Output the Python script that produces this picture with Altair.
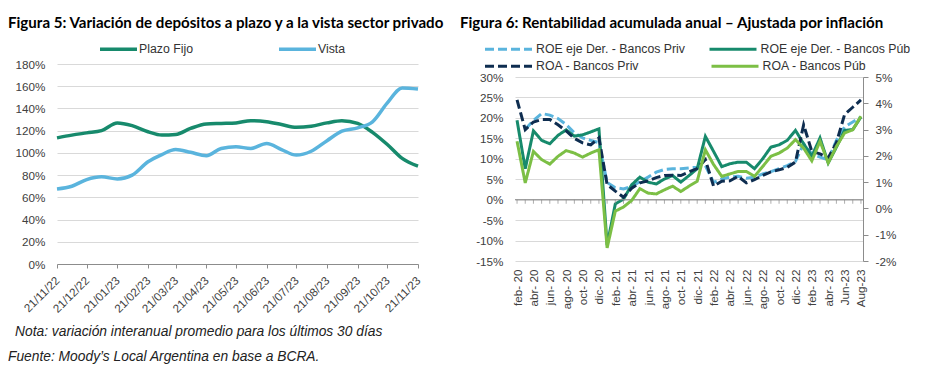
import json
import altair as alt
import pandas as pd

FONT = "Liberation Sans"
TFONT = "Lato"
GRID = "#d9d9d9"
AXC = "#8c8c8c"
LAB = "#404040"
C_PF = "#178a6c"
C_VI = "#5ab4dd"
C_NAVY = "#0e2d50"
C_LG = "#7cbf45"

titulo5 = "Figura 5: Variación de depósitos a plazo y a la vista sector privado"
titulo6 = "Figura 6: Rentabilidad acumulada anual – Ajustada por inflación"
nota = "Nota: variación interanual promedio para los últimos 30 días"
fuente = "Fuente: Moody’s Local Argentina en base a BCRA."

# ---------------- Figura 5 ----------------
fechas = ["2022-11-21", "2022-12-06", "2022-12-21", "2023-01-05", "2023-01-21",
          "2023-02-05", "2023-02-21", "2023-03-07", "2023-03-21", "2023-04-05",
          "2023-04-21", "2023-05-06", "2023-05-21", "2023-06-05", "2023-06-21",
          "2023-07-06", "2023-07-21", "2023-08-05", "2023-08-21", "2023-09-05",
          "2023-09-21", "2023-10-06", "2023-10-21", "2023-11-05", "2023-11-21"]
plazo_fijo = [113.5, 116, 118, 120, 127, 124.5, 119, 116, 116.5, 122, 126, 126.5, 127,
              129, 128, 125.5, 123, 124, 127, 129, 126.5, 118.5, 107.5, 95, 88]
vista = [67.5, 70, 76, 78.5, 76.5, 80, 92, 98.5, 103, 100.5, 97.5, 104, 105.5, 104,
         108.5, 103, 98, 101.5, 111, 119.5, 122.5, 128, 145, 158.5, 157.5]
series5 = ["Plazo Fijo", "Vista"]
ticks5 = ["2022-11-21", "2022-12-21", "2023-01-21", "2023-02-21", "2023-03-21",
          "2023-04-21", "2023-05-21", "2023-06-21", "2023-07-21", "2023-08-21",
          "2023-09-21", "2023-10-21", "2023-11-21"]
etiquetas5 = ["21/11/22", "21/12/22", "21/01/23", "21/02/23", "21/03/23", "21/04/23",
              "21/05/23", "21/06/23", "21/07/23", "21/08/23", "21/09/23", "21/10/23",
              "21/11/23"]
yticks5 = [0, 20, 40, 60, 80, 100, 120, 140, 160, 180]

# ---------------- Figura 6 ----------------
roe_priv = [None, 3.01, 3.35, 3.61, 3.55, 3.42, 3.19, 2.88, 2.68, 2.59, 2.5,
            0.99, 0.79, 0.74, 0.84, 1.02, 1.19, 1.38, 1.48, 1.51, 1.51, 1.54, 1.57,
            1.63, 0.99, 1.12, 1.19, 1.22, 1.15, 1.19, 1.31, 1.40, 1.51, 1.63, 1.79,
            2.46, 2.08, 1.95, 1.85, 2.59, 3.10, 3.29, 3.48]
roe_pub = [3.35, 1.51, 2.95, 2.59, 2.46, 2.78, 2.99, 2.75, 2.80, 2.91, 3.03,
           -1.4, 0.17, 0.35, 0.9, 1.19, 1.0, 0.93, 1.12, 1.25, 1.0, 1.25, 1.51,
           2.74, 2.17, 1.59, 1.70, 1.76, 1.76, 1.51, 1.89, 2.33, 2.42, 2.59, 2.97,
           2.46, 1.99, 2.68, 1.73, 2.33, 2.97, 3.0, 3.48]
roa_priv = [24.4, 17.1, 19.0, 19.6, 19.6, 18.3, 16.8, 15.0, 13.9, 13.4, 15.1,
            3.7, 2.1, 0.6, 2.8, 4.1, 4.6, 5.4, 5.9, 6.0, 5.9, 6.8, 7.6,
            9.8, 3.3, 4.5, 4.6, 5.7, 4.1, 4.9, 5.9, 6.8, 7.3, 7.9, 9.2,
            18.3, 11.8, 11.2, 10.2, 13.9, 20.8, 22.6, 24.4]
roa_pub = [14.3, 4.1, 11.8, 9.8, 8.7, 10.6, 12.0, 11.4, 10.4, 11.4, 12.2,
           -11.8, -2.8, -1.8, -0.2, 2.7, 1.6, 1.4, 2.4, 3.3, 2.0, 3.3, 4.5,
           12.2, 8.6, 5.7, 6.3, 6.9, 6.9, 5.7, 8.1, 10.6, 11.4, 12.6, 14.7,
           12.6, 9.5, 14.3, 9.0, 13.0, 16.3, 17.1, 20.4]
roe_names = ["ROE eje Der. - Bancos Priv", "ROE eje Der. - Bancos Púb"]
roa_names = ["ROA - Bancos Priv", "ROA - Bancos Púb"]
etiquetas6 = ["feb- 20", "abr- 20", "jun- 20", "ago- 20", "oct- 20", "dic- 20",
              "feb- 21", "abr- 21", "jun- 21", "ago- 21", "oct- 21", "dic- 21",
              "feb- 22", "abr- 22", "jun- 22", "ago- 22", "oct- 22", "dic- 22",
              "feb- 23", "abr- 23", "Jun-23", "Aug-23"]
yticks6_izq = [-15, -10, -5, 0, 5, 10, 15, 20, 25, 30]
yticks6_der = [-2, -1, 0, 1, 2, 3, 4, 5]
meses = list(range(len(roa_pub)))

PCT = "datum.value + '%'"

origen = pd.Timestamp(fechas[0])
dias = [int((pd.Timestamp(f) - origen).days) for f in fechas]
dias_ticks = [int((pd.Timestamp(f) - origen).days) for f in ticks5]


def txt(text, x, y, size, weight="normal", style="normal", font=FONT, baseline="top", color="#000000"):
    return alt.Chart(pd.DataFrame({"t": [text]})).mark_text(
        align="left", baseline=baseline, font=font, fontSize=size,
        fontWeight=weight, fontStyle=style, color=color
    ).encode(x=alt.value(x), y=alt.value(y), text="t:N")


# ---- left panel
df5 = pd.DataFrame({
    "dia": dias + dias,
    "fecha": fechas + fechas,
    "valor": plazo_fijo + vista,
    "serie": [series5[0]] * len(fechas) + [series5[1]] * len(fechas),
})

leg5 = alt.Legend(orient="none", legendX=41, legendY=-35.5, direction="horizontal",
                  title=None, symbolType="stroke", symbolSize=1369, symbolStrokeWidth=3.5,
                  labelFont=FONT, labelFontSize=12.3, labelColor="#333333", labelOffset=0,
                  columnPadding=79, padding=0, labelLimit=250)

lines5 = alt.Chart(df5).mark_line(strokeWidth=3.5, interpolate="monotone").encode(
    x=alt.X("dia:Q",
            scale=alt.Scale(domain=[dias_ticks[0], dias_ticks[-1]], nice=False, zero=False),
            axis=alt.Axis(values=dias_ticks,
                          labelExpr=json.dumps(etiquetas5) + "[indexof(" + json.dumps(dias_ticks) + ", datum.value)]",
                          labelAngle=-45, labelAlign="right", labelBaseline="middle",
                          labelPadding=10, labelOverlap=False, labelFlush=False,
                          tickSize=4, tickColor=AXC, domainColor=AXC, grid=False, title=None,
                          labelFont=FONT, labelFontSize=11.7, labelColor=LAB)),
    y=alt.Y("valor:Q", scale=alt.Scale(domain=[0, 180], nice=False, zero=False),
            axis=alt.Axis(values=yticks5, labelExpr=PCT, grid=True, gridColor=GRID,
                          domain=False, ticks=False, labelPadding=12, title=None,
                          labelOverlap=False,
                          labelFont=FONT, labelFontSize=11.7, labelColor=LAB)),
    color=alt.Color("serie:N", scale=alt.Scale(domain=series5, range=[C_PF, C_VI]), legend=leg5),
    tooltip=["fecha:N", "serie:N", "valor:Q"],
)

left = alt.layer(
    lines5,
    txt(titulo5, -49, -48, 15.1, weight="bold", font=TFONT),
    txt(nota, -42, 268, 13.8, style="italic", baseline="middle", color="#222222"),
    txt(fuente, -49, 292.7, 13.8, style="italic", baseline="middle", color="#222222"),
).properties(width=361, height=200)

# ---- right panel
df_roe = pd.DataFrame({
    "mes": meses + meses,
    "valor": roe_priv + roe_pub,
    "serie": [roe_names[0]] * len(meses) + [roe_names[1]] * len(meses),
})
df_roa = pd.DataFrame({
    "mes": meses + meses,
    "valor": roa_priv + roa_pub,
    "serie": [roa_names[0]] * len(meses) + [roa_names[1]] * len(meses),
})

x6_scale = alt.Scale(domain=[-0.25, 42.25], nice=False, zero=False)
x6_axis = alt.Axis(values=list(range(0, 43, 2)),
                   labelExpr=json.dumps(etiquetas6) + "[round(datum.value / 2)]",
                   labelAngle=-90, labelAlign="right", labelBaseline="middle",
                   labelPadding=8, ticks=False, domain=False, grid=False,
                   labelOverlap=False, labelFlush=False, title=None,
                   labelFont=FONT, labelFontSize=11.7, labelColor=LAB)
x6 = alt.X("mes:Q", scale=x6_scale, axis=x6_axis)

yl_scale = alt.Scale(domain=[-15, 30], range=[197, 13], nice=False, zero=False)
yl_axis = alt.Axis(orient="left", values=yticks6_izq, labelExpr=PCT, grid=True,
                   gridColor=GRID, domain=False, ticks=False, labelPadding=12, title=None,
                   labelOverlap=False, labelFont=FONT, labelFontSize=11.7, labelColor=LAB)

legROE = alt.Legend(orient="none", legendX=-31.5, legendY=-40, direction="horizontal",
                    title=None, symbolType="stroke", symbolSize=2209, symbolStrokeWidth=3,
                    labelFont=FONT, labelFontSize=12.3, labelColor="#333333", labelOffset=2.5,
                    columnPadding=17.5, padding=0, labelLimit=250)
legROA = alt.Legend(orient="none", legendX=-31.5, legendY=-23, direction="horizontal",
                    title=None, symbolType="stroke", symbolSize=2209, symbolStrokeWidth=3,
                    labelFont=FONT, labelFontSize=12.3, labelColor="#333333", labelOffset=2.5,
                    columnPadding=65.5, padding=0, labelLimit=250)

roe = alt.Chart(df_roe).mark_line(strokeWidth=3).encode(
    x=x6,
    y=alt.Y("valor:Q", scale=alt.Scale(domain=[-2, 5], range=[197, 13], nice=False, zero=False),
            axis=alt.Axis(orient="right", values=yticks6_der, labelExpr=PCT, grid=False,
                          domain=True, domainColor=AXC, ticks=True, tickColor=AXC, tickSize=5,
                          labelPadding=7, title=None, labelOverlap=False,
                          labelFont=FONT, labelFontSize=11.7, labelColor=LAB)),
    color=alt.Color("serie:N", scale=alt.Scale(domain=roe_names, range=[C_VI, C_PF]), legend=legROE),
    strokeDash=alt.StrokeDash("serie:N", scale=alt.Scale(domain=roe_names, range=[[9, 4], [1, 0]]),
                              legend=legROE),
)

roa = alt.Chart(df_roa).mark_line(strokeWidth=3).encode(
    x=x6,
    y=alt.Y("valor:Q", scale=yl_scale, axis=yl_axis),
    color=alt.Color("serie:N", scale=alt.Scale(domain=roa_names, range=[C_NAVY, C_LG]), legend=legROA),
    strokeDash=alt.StrokeDash("serie:N", scale=alt.Scale(domain=roa_names, range=[[9, 4], [1, 0]]),
                              legend=legROA),
)

zero = alt.Chart(pd.DataFrame({"mes": [0]})).mark_rule(color=AXC, strokeWidth=1).encode(
    y=alt.YDatum(0, scale=yl_scale, axis=yl_axis))
mticks = alt.Chart(pd.DataFrame({"mes": meses})).mark_tick(
    orient="vertical", size=4, thickness=1, color=AXC, yOffset=2
).encode(x=x6, y=alt.YDatum(0, scale=yl_scale, axis=yl_axis))

inner = alt.layer(zero, mticks, roa)

right = alt.layer(
    roe, inner,
    txt(titulo6, -55, -48, 15.1, weight="bold", font=TFONT),
).resolve_scale(y="independent", color="independent", strokeDash="independent").properties(
    width=348, height=197)

chart = alt.hconcat(left, right, spacing=97, bounds="flush").resolve_scale(
    color="independent", strokeDash="independent"
).properties(padding={"left": 0, "top": 8, "right": 2, "bottom": 2}).configure_view(stroke=None)

chart.save("out.html", embed_options={"renderer": "svg", "actions": False})
